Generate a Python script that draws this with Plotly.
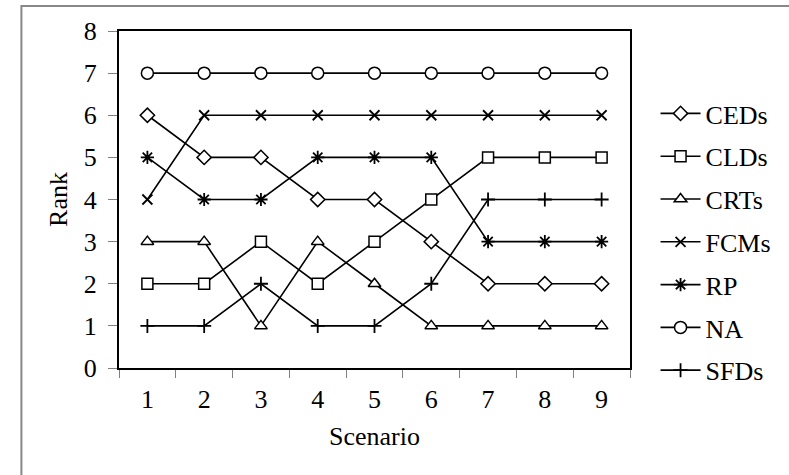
import plotly.graph_objects as go

scenarios = ["1", "2", "3", "4", "5", "6", "7", "8", "9"]
series_names = ["CEDs", "CLDs", "CRTs", "FCMs", "RP", "NA", "SFDs"]
ceds = [6, 5, 5, 4, 4, 3, 2, 2, 2]
clds = [2, 2, 3, 2, 3, 4, 5, 5, 5]
crts = [3, 3, 1, 3, 2, 1, 1, 1, 1]
fcms = [4, 6, 6, 6, 6, 6, 6, 6, 6]
rp = [5, 4, 4, 5, 5, 5, 3, 3, 3]
na = [7, 7, 7, 7, 7, 7, 7, 7, 7]
sfds = [1, 1, 2, 1, 1, 2, 4, 4, 4]
y_ticks = [0, 1, 2, 3, 4, 5, 6, 7, 8]

values = [ceds, clds, crts, fcms, rp, na, sfds]
symbols = ["diamond", "square", "triangle-up", "x-thin-open", "asterisk-open", "circle", "cross-thin-open"]
sizes = [11, 11, 11, 10, 11, 12, 10]

FONT = "Liberation Serif"
FS = 26

fig = go.Figure()
for name, vals, sym, sz in zip(series_names, values, symbols, sizes):
    thin = sym.endswith("-open")
    fig.add_trace(go.Scatter(
        x=scenarios, y=vals, name=name, mode="lines+markers",
        legendgroup=name,
        line=dict(color="black", width=1.6),
        marker=dict(symbol=sym, size=sz,
                    color="black" if thin else "white",
                    line=dict(color="black", width=1.8 if thin else 1.5)),
    ))

fig.update_layout(
    template="none",
    width=789, height=475,
    margin=dict(l=119, r=152, t=31, b=107, pad=0),
    paper_bgcolor="white", plot_bgcolor="white",
    font=dict(family=FONT, size=FS, color="black"),
    showlegend=True,
    legend=dict(x=1.05, y=0.825, xanchor="left", yanchor="top",
                font=dict(family=FONT, size=FS, color="black"),
                tracegroupgap=6, itemwidth=40, bgcolor="rgba(0,0,0,0)"),
    xaxis=dict(type="category", range=[-0.5, 8.5], tickson="boundaries",
               ticks="outside", ticklen=8, tickcolor="#808080", tickwidth=1,
               ticklabelstandoff=7, automargin=False,
               tickfont=dict(family=FONT, size=FS, color="black"),
               showline=True, mirror=True, linecolor="black", linewidth=2,
               showgrid=False, zeroline=False,
               title=dict(text="Scenario", standoff=14,
                          font=dict(family=FONT, size=FS, color="black"))),
    yaxis=dict(range=[0, 8], tickvals=y_ticks, ticks="outside", ticklen=9,
               tickcolor="#808080", tickwidth=1,
               ticklabelstandoff=6, automargin=False,
               tickfont=dict(family=FONT, size=FS, color="black"),
               showline=True, mirror=True, linecolor="black", linewidth=2,
               showgrid=False, zeroline=False,
               title=dict(text="Rank", standoff=9,
                          font=dict(family=FONT, size=FS, color="black"))),
    shapes=[dict(type="rect", xref="paper", yref="paper",
                 x0=-0.191, x1=1.35, y0=-0.4, y1=1.074,
                 line=dict(color="#888888", width=2), fillcolor="rgba(0,0,0,0)",
                 layer="below")],
)

fig.write_html("out.html",
               config={"displayModeBar": False},
               post_script="document.body.style.margin='0';document.body.style.overflow='hidden';")
